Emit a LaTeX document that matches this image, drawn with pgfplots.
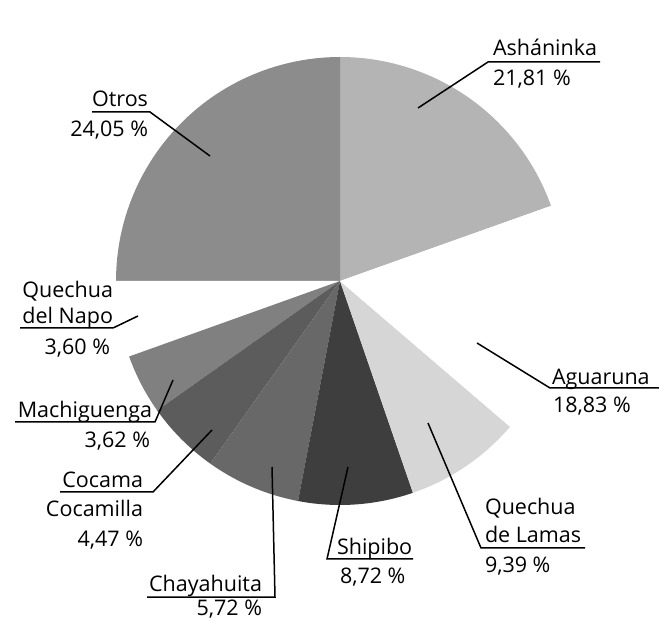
\documentclass[border=0pt]{standalone}
\usepackage{pgfplots}
\pgfplotsset{compat=1.18}
\usepackage{fontspec}
\setmainfont{Open Sans}
\definecolor{cOtros}{HTML}{8C8C8C}
\definecolor{cAsha}{HTML}{B4B4B4}
\definecolor{cAgua}{HTML}{FFFFFF}
\definecolor{cLamas}{HTML}{D6D6D6}
\definecolor{cShip}{HTML}{3E3E3E}
\definecolor{cChay}{HTML}{686868}
\definecolor{cCoca}{HTML}{5C5C5C}
\definecolor{cMach}{HTML}{808080}
\definecolor{cNapo}{HTML}{FFFFFF}
\tikzset{lbl/.style={font=\fontsize{21.5}{26}\selectfont, inner sep=0pt, outer sep=0pt}}
\begin{document}
\begin{tikzpicture}
\begin{axis}[
  width=659pt, height=627pt, scale only axis,
  xmin=0, xmax=659, ymin=0, ymax=627,
  axis lines=none, ticks=none, clip=false,
]
% slices: start angle, end angle (degrees)
\addplot[fill=cAsha, draw=none, domain=19.6:90, samples=60, variable=\t] ({340+224*cos(t)},{346+224*sin(t)}) -- (axis cs:340,346) -- cycle;
\addplot[fill=cOtros, draw=none, domain=90:180, samples=60, variable=\t] ({340+224*cos(t)},{346+224*sin(t)}) -- (axis cs:340,346) -- cycle;
\addplot[fill=cNapo, draw=none, domain=180:199.7, samples=20, variable=\t] ({340+224*cos(t)},{346+224*sin(t)}) -- (axis cs:340,346) -- cycle;
\addplot[fill=cMach, draw=none, domain=199.7:215.3, samples=20, variable=\t] ({340+224*cos(t)},{346+224*sin(t)}) -- (axis cs:340,346) -- cycle;
\addplot[fill=cCoca, draw=none, domain=215.3:234.6, samples=20, variable=\t] ({340+224*cos(t)},{346+224*sin(t)}) -- (axis cs:340,346) -- cycle;
\addplot[fill=cChay, draw=none, domain=234.6:259.2, samples=20, variable=\t] ({340+224*cos(t)},{346+224*sin(t)}) -- (axis cs:340,346) -- cycle;
\addplot[fill=cShip, draw=none, domain=259.2:289, samples=30, variable=\t] ({340+224*cos(t)},{346+224*sin(t)}) -- (axis cs:340,346) -- cycle;
\addplot[fill=cLamas, draw=none, domain=289:319.4, samples=30, variable=\t] ({340+224*cos(t)},{346+224*sin(t)}) -- (axis cs:340,346) -- cycle;
\addplot[fill=cAgua, draw=none, domain=319.4:379.6, samples=40, variable=\t] ({340+224*cos(t)},{346+224*sin(t)}) -- (axis cs:340,346) -- cycle;

% leader lines with underlines
\addplot[black, line width=1.5pt] coordinates {(418,519) (488,565) (600,565)};
\addplot[black, line width=1.5pt] coordinates {(210,471) (150,515) (92,515)};
\addplot[black, line width=1.5pt] coordinates {(138,311) (113,299) (20,299)};
\addplot[black, line width=1.5pt] coordinates {(173,247) (155,205) (15,205)};
\addplot[black, line width=1.5pt] coordinates {(212,197) (153,135) (60,135)};
\addplot[black, line width=1.5pt] coordinates {(272,160) (275,30) (147,30)};
\addplot[black, line width=1.5pt] coordinates {(348,160) (327,68) (413,68)};
\addplot[black, line width=1.5pt] coordinates {(428,204) (481,79) (585,79)};
\addplot[black, line width=1.5pt] coordinates {(477,284) (550,239) (659,239)};

% labels
\node[lbl, anchor=base west] at (axis cs:493,571) {Asháninka};
\node[lbl, anchor=base west] at (axis cs:493,541) {21,81 \%};
\node[lbl, anchor=base east] at (axis cs:148,520) {Otros};
\node[lbl, anchor=base east] at (axis cs:148,490) {24,05 \%};
\node[lbl, anchor=base east] at (axis cs:113,329) {Quechua};
\node[lbl, anchor=base east] at (axis cs:113,303) {del Napo};
\node[lbl, anchor=base east] at (axis cs:110,272) {3,60 \%};
\node[lbl, anchor=base east] at (axis cs:152,209) {Machiguenga};
\node[lbl, anchor=base east] at (axis cs:150,179) {3,62 \%};
\node[lbl, anchor=base east] at (axis cs:143,139) {Cocama};
\node[lbl, anchor=base east] at (axis cs:143,110) {Cocamilla};
\node[lbl, anchor=base east] at (axis cs:143,80) {4,47 \%};
\node[lbl, anchor=base east] at (axis cs:262,35) {Chayahuita};
\node[lbl, anchor=base east] at (axis cs:262,12) {5,72 \%};
\node[lbl, anchor=base west] at (axis cs:337,72) {Shipibo};
\node[lbl, anchor=base west] at (axis cs:340,44) {8,72 \%};
\node[lbl, anchor=base west] at (axis cs:485,112) {Quechua};
\node[lbl, anchor=base west] at (axis cs:485,84) {de Lamas};
\node[lbl, anchor=base west] at (axis cs:485,55) {9,39 \%};
\node[lbl, anchor=base west] at (axis cs:552,242) {Aguaruna};
\node[lbl, anchor=base west] at (axis cs:553,214) {18,83 \%};
\end{axis}
\pgfresetboundingbox
\path (current axis.south west) rectangle (current axis.north east);
\end{tikzpicture}
\end{document}
